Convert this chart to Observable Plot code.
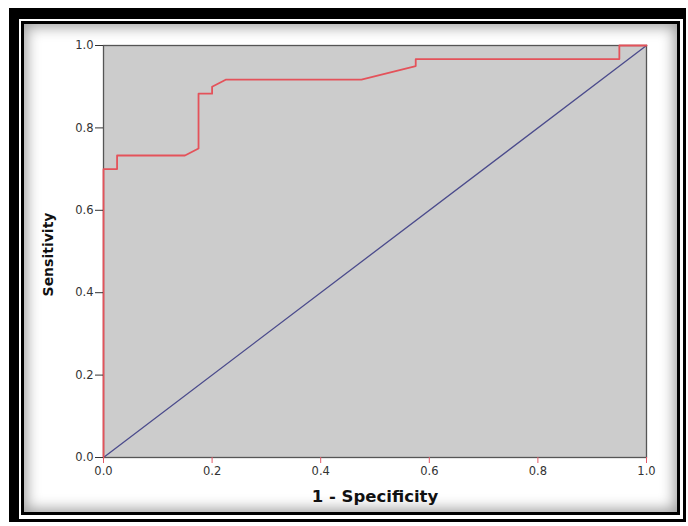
<!DOCTYPE html>
<html>
<head>
<meta charset="utf-8">
<script src="https://cdn.jsdelivr.net/npm/d3@7"></script>
<script src="https://cdn.jsdelivr.net/npm/@observablehq/plot@0.6"></script>
<style>
  html, body { margin: 0; padding: 0; background: #fff; }
  #stage { position: relative; width: 688px; height: 526px; overflow: hidden; background: #fff; }
  #outer { position: absolute; left: 9px; top: 8px; width: 677px; height: 514px; box-sizing: border-box;
           border-style: solid; border-color: #000; border-width: 11px 3px 3px 10px; background: #fff; }
  #inner { position: absolute; left: 21px; top: 21px; width: 659px; height: 494px; box-sizing: border-box;
           border: 3px solid #000; background: #fff; box-shadow: inset 0 0 14px 3px rgba(0,0,0,0.38); }
  #chart { position: absolute; left: 0; top: 0; }
</style>
</head>
<body>
<div id="stage">
  <div id="outer"></div>
  <div id="inner"></div>
  <div id="chart"></div>
</div>
<script>
// ROC curve (1 - Specificity, Sensitivity)
const fpr = [0, 0, 0.025, 0.025, 0.15, 0.175, 0.175, 0.2, 0.2, 0.225, 0.475, 0.575, 0.575, 0.95, 0.95, 1];
const tpr = [0, 0.7, 0.7, 0.733, 0.733, 0.75, 0.883, 0.883, 0.9, 0.917, 0.917, 0.95, 0.967, 0.967, 1, 1];
// Reference diagonal
const refX = [0, 1];
const refY = [0, 1];
// Tick values
const xTicks = [0, 0.2, 0.4, 0.6, 0.8, 1.0];
const yTicks = [0, 0.2, 0.4, 0.6, 0.8, 1.0];
const xTitle = "1 - Specificity";
const yTitle = "Sensitivity";

const roc = fpr.map((x, i) => ({x, y: tpr[i]}));
const ref = refX.map((x, i) => ({x, y: refY[i]}));
const fmt = d => d.toFixed(1);

const chart = Plot.plot({
  width: 688,
  height: 526,
  marginLeft: 103,
  marginRight: 42,
  marginTop: 45,
  marginBottom: 69,
  style: {background: "transparent", fontFamily: "DejaVu Sans", fontSize: "11.5px", color: "#333"},
  x: {domain: [0, 1]},
  y: {domain: [0, 1]},
  marks: [
    Plot.frame({fill: "#cccccc"}),
    Plot.line(ref, {x: "x", y: "y", stroke: "#4b4b8c", strokeWidth: 1.3}),
    Plot.frame({stroke: "#555", strokeWidth: 1.3}),
    Plot.line(roc, {x: "x", y: "y", stroke: "#e4525a", strokeWidth: 1.8}),
    Plot.axisX({ticks: xTicks, tickFormat: fmt, tickSize: 6, tickPadding: 3, stroke: "#e45a68", fill: "#333", label: null}),
    Plot.axisY({ticks: yTicks, tickFormat: fmt, tickSize: 8, tickPadding: 2, stroke: "#333", fill: "#333", label: null}),
    Plot.text([xTitle], {frameAnchor: "bottom", dy: 44, lineAnchor: "bottom", fontWeight: "bold", fontSize: 16.5, fill: "#111"}),
    Plot.text([yTitle], {frameAnchor: "left", dx: -55, dy: 3, rotate: -90, textAnchor: "middle", lineAnchor: "middle", fontWeight: "bold", fontSize: 14, fill: "#111"})
  ]
});
document.getElementById("chart").appendChild(chart);
</script>
</body>
</html>
